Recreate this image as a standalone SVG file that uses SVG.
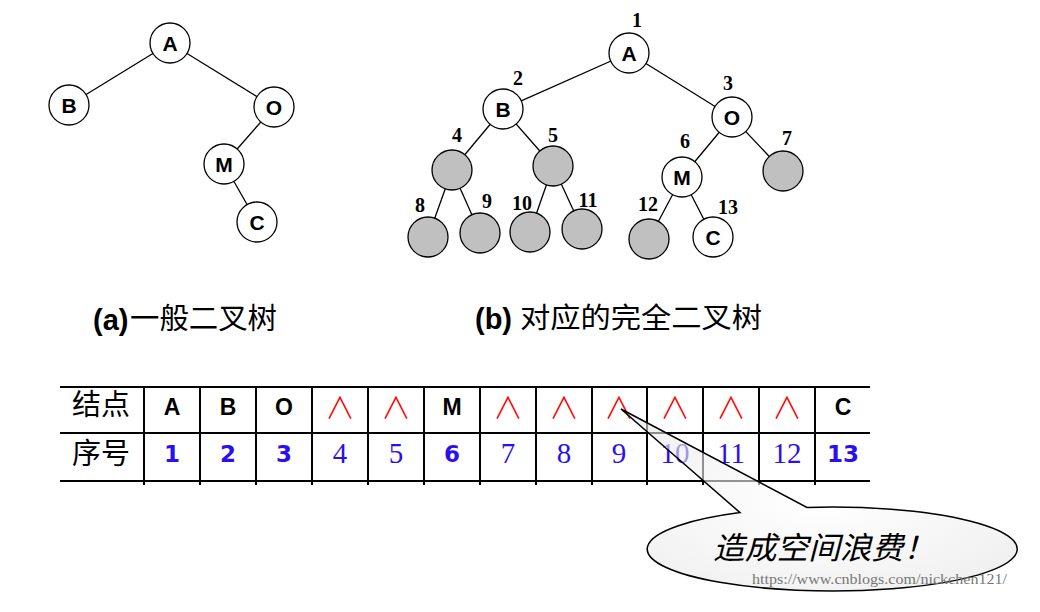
<svg xmlns="http://www.w3.org/2000/svg" width="1040" height="612" viewBox="0 0 1040 612">
<style>
.edge{stroke:#000;stroke-width:1.3;fill:none}
.nw{fill:#fff;stroke:#000;stroke-width:1.3}
.ng{fill:#c0c0c0;stroke:#000;stroke-width:1.3}
.nl{font-family:"Liberation Sans",Arial,sans-serif;font-weight:bold;font-size:21px;text-anchor:middle;fill:#000}
.idx{font-family:"Liberation Serif","Times New Roman",serif;font-weight:bold;font-size:20px;text-anchor:middle;fill:#000}
.cjk{font-family:"Noto Sans CJK SC",sans-serif;fill:#000}
.cap{font-family:"Liberation Sans",Arial,sans-serif;font-weight:bold;font-size:29px;fill:#000}
.tl{stroke:#000;stroke-width:2}
.let{font-family:"Liberation Sans",Arial,sans-serif;font-weight:bold;font-size:23px;text-anchor:middle;fill:#000}
.nul{font-family:"Noto Sans CJK SC",sans-serif;font-weight:300;font-size:30px;text-anchor:middle;fill:#f00}
.nb{font-family:"DejaVu Sans",Verdana,sans-serif;font-weight:bold;font-size:23px;text-anchor:middle;fill:#2a10f0}
.ns{font-family:"Liberation Serif","Times New Roman",serif;font-size:29px;text-anchor:middle;fill:#2a10f0}
</style>
<defs>
<radialGradient id="cg" cx="0.5" cy="0.5" r="0.6">
<stop offset="0" stop-color="#ffffff"/>
<stop offset="1" stop-color="#e6e6e6"/>
</radialGradient>
</defs>
<rect width="1040" height="612" fill="#fff"/>

<!-- tree (a) connectors -->
<g id="edges-a">
<line class="edge" x1="170" y1="43" x2="69" y2="105"/>
<line class="edge" x1="170" y1="43" x2="274" y2="107"/>
<line class="edge" x1="274" y1="107" x2="224" y2="164"/>
<line class="edge" x1="224" y1="164" x2="257" y2="222"/>
</g>
<g id="a-A"><circle class="nw" cx="170" cy="43" r="20"/><text class="nl" x="170" y="51">A</text></g>
<g id="a-B"><circle class="nw" cx="69" cy="105" r="20"/><text class="nl" x="69" y="113">B</text></g>
<g id="a-O"><circle class="nw" cx="274" cy="107" r="20"/><text class="nl" x="274" y="115">O</text></g>
<g id="a-M"><circle class="nw" cx="224" cy="164" r="20"/><text class="nl" x="224" y="172">M</text></g>
<g id="a-C"><circle class="nw" cx="257" cy="222" r="20"/><text class="nl" x="257" y="230">C</text></g>

<!-- tree (b) connectors -->
<g id="edges-b">
<line class="edge" x1="629" y1="53" x2="503" y2="109"/>
<line class="edge" x1="629" y1="53" x2="732" y2="117"/>
<line class="edge" x1="503" y1="109" x2="452" y2="170"/>
<line class="edge" x1="503" y1="109" x2="553" y2="166"/>
<line class="edge" x1="732" y1="117" x2="682" y2="177"/>
<line class="edge" x1="732" y1="117" x2="783" y2="171"/>
<line class="edge" x1="452" y1="170" x2="428" y2="237"/>
<line class="edge" x1="452" y1="170" x2="480" y2="233"/>
<line class="edge" x1="553" y1="166" x2="530" y2="232"/>
<line class="edge" x1="553" y1="166" x2="582" y2="229"/>
<line class="edge" x1="682" y1="177" x2="649" y2="239"/>
<line class="edge" x1="682" y1="177" x2="713" y2="237"/>
</g>
<g id="b-1"><circle class="nw" cx="629" cy="53" r="20"/><text class="nl" x="629" y="61">A</text><text class="idx" x="637" y="27">1</text></g>
<g id="b-2"><circle class="nw" cx="503" cy="109" r="20"/><text class="nl" x="503" y="117">B</text><text class="idx" x="518" y="85">2</text></g>
<g id="b-3"><circle class="nw" cx="732" cy="117" r="20"/><text class="nl" x="732" y="125">O</text><text class="idx" x="728" y="90">3</text></g>
<g id="b-4"><circle class="ng" cx="452" cy="170" r="20"/><text class="idx" x="457" y="142">4</text></g>
<g id="b-5"><circle class="ng" cx="553" cy="166" r="20"/><text class="idx" x="553" y="142">5</text></g>
<g id="b-6"><circle class="nw" cx="682" cy="177" r="20"/><text class="nl" x="682" y="185">M</text><text class="idx" x="685" y="148">6</text></g>
<g id="b-7"><circle class="ng" cx="783" cy="171" r="20"/><text class="idx" x="787" y="145">7</text></g>
<g id="b-8"><circle class="ng" cx="428" cy="237" r="20"/><text class="idx" x="420" y="212">8</text></g>
<g id="b-9"><circle class="ng" cx="480" cy="233" r="20"/><text class="idx" x="487" y="208">9</text></g>
<g id="b-10"><circle class="ng" cx="530" cy="232" r="20"/><text class="idx" x="522" y="210">10</text></g>
<g id="b-11"><circle class="ng" cx="582" cy="229" r="20"/><text class="idx" x="588" y="207">11</text></g>
<g id="b-12"><circle class="ng" cx="649" cy="239" r="20"/><text class="idx" x="648" y="211">12</text></g>
<g id="b-13"><circle class="nw" cx="713" cy="237" r="20"/><text class="nl" x="713" y="245">C</text><text class="idx" x="728" y="214">13</text></g>

<!-- captions -->
<g id="caption-a">
<text class="cap" x="93" y="330">(a)</text>
<text class="cjk" x="130" y="329" font-size="29" textLength="147" lengthAdjust="spacingAndGlyphs">一般二叉树</text>
</g>
<g id="caption-b">
<text class="cap" x="475" y="329">(b)</text>
<text class="cjk" x="520" y="328" font-size="28" textLength="242" lengthAdjust="spacingAndGlyphs">对应的完全二叉树</text>
</g>

<!-- table -->
<g id="table">
<line class="tl" x1="60" y1="387" x2="870" y2="387"/>
<line class="tl" x1="60" y1="433" x2="870" y2="433"/>
<line class="tl" x1="60" y1="481" x2="870" y2="481"/>
<g class="tl">
<line x1="144" y1="387" x2="144" y2="485"/>
<line x1="200" y1="387" x2="200" y2="485"/>
<line x1="256" y1="387" x2="256" y2="485"/>
<line x1="312" y1="387" x2="312" y2="485"/>
<line x1="368" y1="387" x2="368" y2="485"/>
<line x1="424" y1="387" x2="424" y2="485"/>
<line x1="480" y1="387" x2="480" y2="485"/>
<line x1="536" y1="387" x2="536" y2="485"/>
<line x1="592" y1="387" x2="592" y2="485"/>
<line x1="647" y1="387" x2="647" y2="485"/>
<line x1="703" y1="387" x2="703" y2="485"/>
<line x1="759" y1="387" x2="759" y2="485"/>
<line x1="815" y1="387" x2="815" y2="485"/>
</g>
<text class="cjk" x="72" y="415" font-size="29">结点</text>
<text class="cjk" x="72" y="464" font-size="29">序号</text>
<text class="let" x="172" y="415">A</text>
<text class="let" x="228" y="415">B</text>
<text class="let" x="284" y="415">O</text>
<text class="nul" x="340" y="418">∧</text>
<text class="nul" x="396" y="418">∧</text>
<text class="let" x="452" y="415">M</text>
<text class="nul" x="508" y="418">∧</text>
<text class="nul" x="564" y="418">∧</text>
<text class="nul" x="619" y="418">∧</text>
<text class="nul" x="675" y="418">∧</text>
<text class="nul" x="731" y="418">∧</text>
<text class="nul" x="787" y="418">∧</text>
<text class="let" x="843" y="415">C</text>
<text class="nb" x="172" y="462">1</text>
<text class="nb" x="228" y="462">2</text>
<text class="nb" x="284" y="462">3</text>
<text class="ns" x="340" y="463">4</text>
<text class="ns" x="396" y="463">5</text>
<text class="nb" x="452" y="462">6</text>
<text class="ns" x="508" y="463">7</text>
<text class="ns" x="564" y="463">8</text>
<text class="ns" x="619" y="463">9</text>
<text class="ns" x="675" y="463">10</text>
<text class="ns" x="731" y="463">11</text>
<text class="ns" x="787" y="463">12</text>
<text class="nb" x="843" y="462">13</text>
</g>

<!-- callout -->
<g id="callout">
<path d="M740,512.6 L621,409 L807,507.4 A185,42 0 1 1 740,512.6 Z" fill="url(#cg)" fill-opacity="0.6" stroke="#000" stroke-width="1.5" stroke-linejoin="miter"/>
<text class="cjk" x="713" y="559" font-size="31" font-style="italic" textLength="222" lengthAdjust="spacingAndGlyphs">造成空间浪费！</text>
<text x="752" y="584" font-family="Liberation Serif, serif" font-size="15" fill="#777" textLength="255" lengthAdjust="spacingAndGlyphs">https://www.cnblogs.com/nickchen121/</text>
</g>
</svg>
